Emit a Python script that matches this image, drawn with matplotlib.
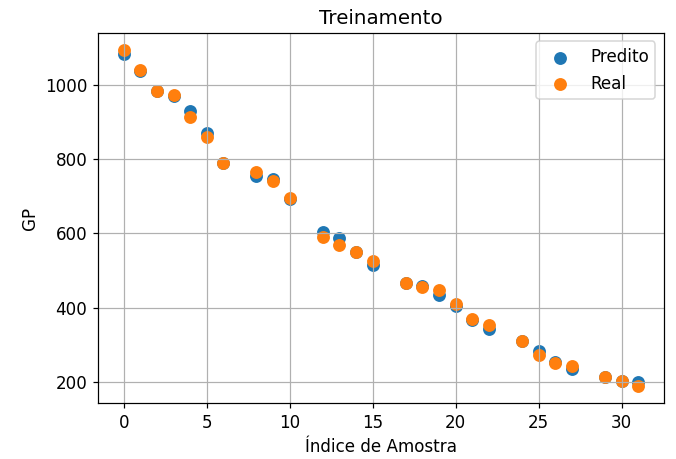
import numpy as np
import matplotlib.pyplot as plt

# sample indices kept in the training set
indices = [0, 1, 2, 3, 4, 5, 6, 8, 9, 10, 12, 13, 14, 15, 17, 18, 19, 20,
           21, 22, 24, 25, 26, 27, 29, 30, 31]
predito = [1082, 1037, 982, 969, 930, 870, 788, 755, 746, 692, 603, 588, 550,
           515, 467, 460, 435, 405, 369, 344, 310, 284, 255, 235, 215, 205, 201]
real = [1093, 1040, 982, 973, 914, 859, 790, 765, 742, 696, 591, 569, 551,
        525, 468, 455, 447, 410, 370, 355, 310, 273, 251, 244, 215, 205, 190]

plt.rcParams['font.size'] = 11

fig, ax = plt.subplots(figsize=(676 / 110, 459 / 110), dpi=110)
fig.subplots_adjust(left=0.145, right=0.982, top=0.928, bottom=0.122)

ax.scatter(indices, predito, s=55, label='Predito')
ax.scatter(indices, real, s=55, label='Real')
ax.set_title('Treinamento', fontsize=13)
ax.set_xlabel('Índice de Amostra')
ax.set_ylabel('GP')
ax.set_xticks([0, 5, 10, 15, 20, 25, 30])
ax.set_yticks([200, 400, 600, 800, 1000])
ax.grid(True)
ax.legend(loc='upper right')

plt.savefig('out.png', dpi=110)
